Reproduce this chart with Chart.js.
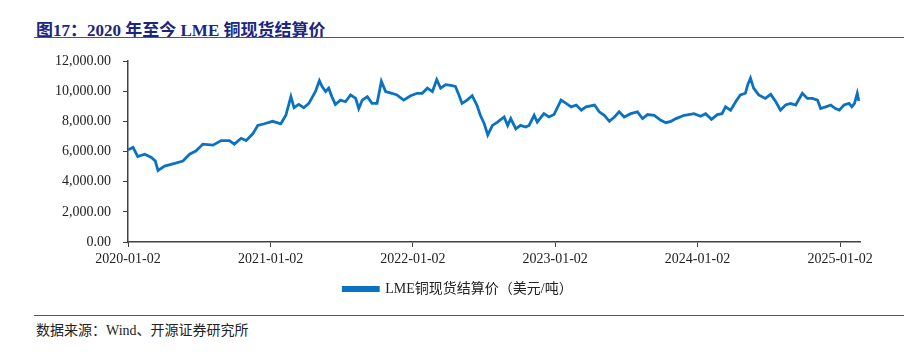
<!DOCTYPE html>
<html>
<head>
<meta charset="utf-8">
<script src="https://cdn.jsdelivr.net/npm/chart.js@4.4.1/dist/chart.umd.min.js"></script>
<style>
  html, body { margin: 0; padding: 0; background: #fff; width: 904px; height: 352px; overflow: hidden; }
  #title { position: absolute; left: 36px; top: 16px; font: bold 17px "Liberation Serif", "Noto Sans CJK SC", serif; color: #1a2680; white-space: nowrap; }
  #rule1 { position: absolute; left: 34px; top: 37px; width: 870px; height: 0; border-top: 1.5px solid #555; }
  #rule2 { position: absolute; left: 34px; top: 315px; width: 870px; height: 0; border-top: 1.5px solid #555; }
  #source { position: absolute; left: 36px; top: 319px; font: 14px "Liberation Serif", "Noto Sans CJK SC", serif; color: #222; white-space: nowrap; }
  #wrap { position: absolute; left: 0; top: 40px; width: 904px; height: 270px; }
</style>
</head>
<body>
<div id="title">图17：2020 年至今 LME 铜现货结算价</div>
<div id="rule1"></div>
<div id="wrap"><canvas id="c"></canvas></div>
<div id="rule2"></div>
<div id="source">数据来源：Wind、开源证券研究所</div>
<script>
const seriesName = 'LME铜现货结算价（美元/吨）';
const dates = [
 '2020-01-02','2020-01-15','2020-01-27','2020-02-14','2020-03-02','2020-03-12','2020-03-19','2020-04-05','2020-05-01','2020-05-22',
 '2020-06-08','2020-06-25','2020-07-12','2020-08-07','2020-08-28','2020-09-18','2020-10-01','2020-10-18','2020-10-31','2020-11-17',
 '2020-11-30','2020-12-17','2021-01-07','2021-01-28','2021-02-10','2021-02-23','2021-03-03','2021-03-15','2021-03-28','2021-04-10',
 '2021-04-27','2021-05-07','2021-05-14','2021-05-23','2021-05-31','2021-06-08','2021-06-17','2021-06-30','2021-07-13','2021-07-26',
 '2021-08-08','2021-08-16','2021-08-25','2021-09-07','2021-09-19','2021-10-02','2021-10-13','2021-10-24','2021-11-09','2021-11-22',
 '2021-12-09','2021-12-27','2022-01-13','2022-01-26','2022-02-08','2022-02-21','2022-03-04','2022-03-14','2022-03-27','2022-04-09',
 '2022-04-21','2022-04-30','2022-05-08','2022-05-21','2022-06-03','2022-06-15','2022-06-24','2022-07-04','2022-07-13','2022-07-25',
 '2022-08-07','2022-08-24','2022-09-02','2022-09-10','2022-09-23','2022-10-05','2022-10-18','2022-10-27','2022-11-09','2022-11-17',
 '2022-12-04','2022-12-17','2022-12-30','2023-01-17','2023-01-30','2023-02-12','2023-02-25','2023-03-10','2023-03-22','2023-04-13',
 '2023-04-25','2023-05-08','2023-05-21','2023-06-03','2023-06-15','2023-06-28','2023-07-15','2023-08-01','2023-08-14','2023-08-27',
 '2023-09-13','2023-09-30','2023-10-13','2023-10-26','2023-11-08','2023-11-29','2023-12-11','2023-12-24','2024-01-10','2024-01-23',
 '2024-02-07','2024-02-22','2024-03-05','2024-03-14','2024-03-27','2024-04-09','2024-04-21','2024-05-04','2024-05-10','2024-05-17',
 '2024-05-25','2024-06-07','2024-06-24','2024-07-08','2024-07-21','2024-08-02','2024-08-15','2024-08-28','2024-09-10','2024-09-27',
 '2024-10-10','2024-10-23','2024-11-05','2024-11-13','2024-11-26','2024-12-09','2024-12-21','2024-12-31','2025-01-12','2025-01-25',
 '2025-02-01','2025-02-08','2025-02-15','2025-02-19'
];
const prices = [
 6110,6270,5660,5820,5600,5370,4740,5030,5210,5370,
 5820,6050,6490,6420,6720,6720,6490,6875,6720,7170,
 7730,7840,8000,7840,8400,9640,8900,9120,8900,9190,
 9975,10700,10310,9975,10200,9640,9120,9410,9300,9750,
 9520,8850,9410,9640,9190,9190,10650,9975,9860,9750,
 9410,9700,9860,9860,10200,9975,10760,10200,10430,10380,
 10310,9750,9190,9410,9700,9080,8400,7840,7100,7730,
 7950,8290,7730,8180,7500,7730,7620,7730,8400,7950,
 8510,8290,8450,9410,9190,8960,9080,8740,8960,9080,
 8630,8400,8000,8290,8630,8290,8510,8630,8180,8450,
 8400,8070,7910,8000,8180,8400,8450,8510,8340,8510,
 8130,8450,8510,8960,8740,9300,9750,9860,10430,10870,
 10200,9750,9520,9790,9300,8740,9080,9190,9080,9860,
 9520,9520,9410,8850,8960,9080,8850,8740,9080,9190,
 8960,9190,9860,9350
];
const tickDates = ['2020-01-02','2021-01-02','2022-01-02','2023-01-02','2024-01-02','2025-01-02'];

const base = Date.UTC(2020, 0, 2);
const dayOf = s => { const p = s.split('-').map(Number); return Math.round((Date.UTC(p[0], p[1]-1, p[2]) - base) / 86400000); };
const points = dates.map((d, i) => ({ x: dayOf(d), y: prices[i] }));
const tickDays = tickDates.map(dayOf);

const serif = '"Liberation Serif", "Noto Sans CJK SC", serif';
const axisColor = '#404040';
const lineColor = '#0b72c2';

new Chart(document.getElementById('c'), {
  type: 'line',
  data: {
    datasets: [{
      label: seriesName,
      data: points,
      borderColor: lineColor,
      backgroundColor: lineColor,
      borderWidth: 2.8,
      pointRadius: 0,
      tension: 0,
      fill: false
    }]
  },
  options: {
    responsive: true,
    maintainAspectRatio: false,
    animation: false,
    layout: { padding: { top: 21, right: 44, left: 56, bottom: 4 } },
    plugins: {
      tooltip: { enabled: false },
      legend: {
        position: 'bottom',
        labels: {
          boxWidth: 35,
          boxHeight: 3,
          padding: 8,
          color: '#222',
          font: { family: serif, size: 14 }
        }
      }
    },
    scales: {
      x: {
        type: 'linear',
        min: 0,
        max: 1878,
        afterFit: s => { s.height = 32; },
        afterBuildTicks: s => { s.ticks = tickDays.map(v => ({ value: v })); },
        grid: { display: true, drawOnChartArea: false, drawTicks: true, tickLength: 5, color: axisColor, lineWidth: 1 },
        border: { display: true, color: axisColor, width: 1.5 },
        ticks: {
          autoSkip: false,
          maxRotation: 0,
          padding: 4,
          color: '#222',
          font: { family: serif, size: 14 },
          callback: v => { const i = tickDays.indexOf(v); return i >= 0 ? tickDates[i] : ''; }
        }
      },
      y: {
        min: 0,
        max: 12000,
        afterFit: s => { s.width = 72; },
        grid: { display: true, drawOnChartArea: false, drawTicks: true, tickLength: 5, color: axisColor, lineWidth: 1 },
        border: { display: true, color: axisColor, width: 1.5 },
        ticks: {
          stepSize: 2000,
          padding: 12,
          color: '#222',
          font: { family: serif, size: 14 },
          callback: v => Number(v).toLocaleString('en-US', { minimumFractionDigits: 2, maximumFractionDigits: 2 })
        }
      }
    }
  }
});
</script>
</body>
</html>
